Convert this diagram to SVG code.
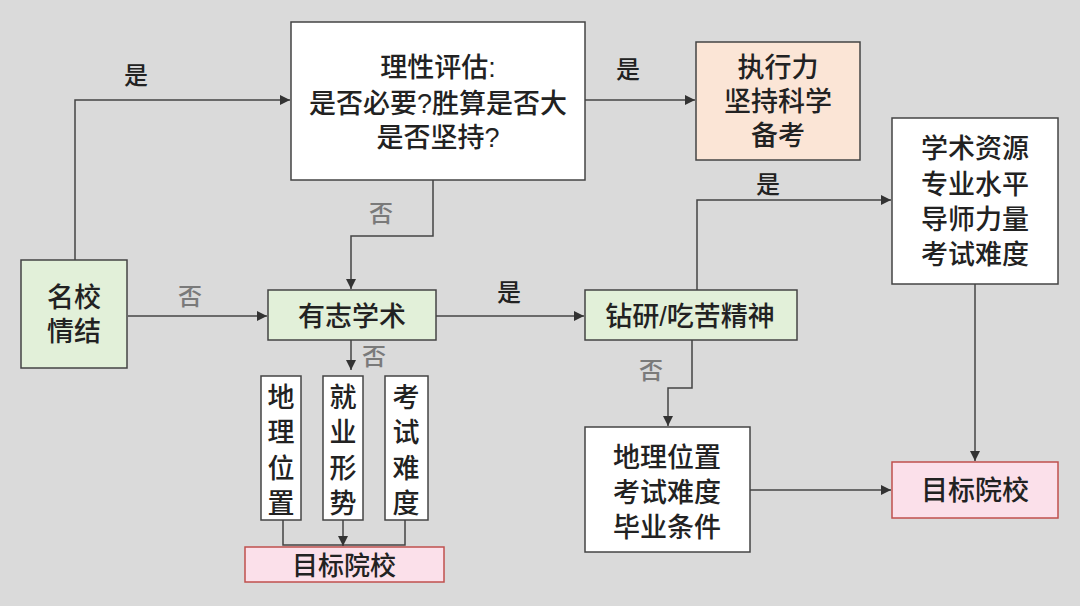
<svg xmlns="http://www.w3.org/2000/svg" width="1080" height="606" viewBox="0 0 1080 606">
<defs>
<style>
.bg{fill:#dadada}
.n{stroke:#444;stroke-width:1.5}
.w{fill:#ffffff}
.g{fill:#e2f0d9}
.o{fill:#fbe5d6}
.p{fill:#fbe0ea;stroke:#c0504d;stroke-width:1.5}
.t{font-family:"Liberation Sans","Noto Sans CJK SC",sans-serif;font-size:27px;font-weight:500;fill:#222;text-anchor:middle;dominant-baseline:central}
.l{font-family:"Liberation Sans","Noto Sans CJK SC",sans-serif;font-size:24px;font-weight:500;text-anchor:middle;dominant-baseline:central}
.y{fill:#222}
.no{fill:#7a7a7a}
.c{fill:none;stroke:#444;stroke-width:1.5}
</style>
<marker id="a" viewBox="0 0 10 10" refX="10" refY="5" markerWidth="10" markerHeight="10" markerUnits="userSpaceOnUse" orient="auto">
<path d="M0,0 L10,5 L0,10 z" fill="#333"/>
</marker>
</defs>
<rect class="bg" x="0" y="0" width="1080" height="606"/>

<g id="connectors">
<polyline class="c" points="75,260 75,100 290,100" marker-end="url(#a)"/>
<line class="c" x1="128" y1="316" x2="267" y2="316" marker-end="url(#a)"/>
<polyline class="c" points="433,180 433,236 351,236 351,289" marker-end="url(#a)"/>
<line class="c" x1="585" y1="100" x2="695" y2="100" marker-end="url(#a)"/>
<line class="c" x1="436" y1="316" x2="584" y2="316" marker-end="url(#a)"/>
<line class="c" x1="351" y1="340" x2="351" y2="370" marker-end="url(#a)"/>
<polyline class="c" points="697,290 697,200 891,200" marker-end="url(#a)"/>
<polyline class="c" points="692,340 692,388 668,388 668,426" marker-end="url(#a)"/>
<line class="c" x1="975" y1="284" x2="975" y2="461" marker-end="url(#a)"/>
<line class="c" x1="750" y1="490" x2="891" y2="490" marker-end="url(#a)"/>
<polyline class="c" points="283,520 283,545 405,545 405,520"/>
<line class="c" x1="343" y1="520" x2="343" y2="546" marker-end="url(#a)"/>
<text class="l y" x="136" y="75">是</text>
<text class="l no" x="190" y="296">否</text>
<text class="l no" x="381" y="213">否</text>
<text class="l y" x="628" y="69">是</text>
<text class="l y" x="509" y="292">是</text>
<text class="l no" x="374" y="356">否</text>
<text class="l y" x="768" y="184">是</text>
<text class="l no" x="651" y="370">否</text>
</g>

<g id="mingxiao">
<rect class="n g" x="21" y="260" width="106" height="108"/>
<text class="t" x="74" y="298">名校<tspan x="74" dy="34">情结</tspan></text>
</g>

<g id="lixing">
<rect class="n w" x="291" y="22" width="294" height="158"/>
<text class="t" x="438" y="68">理性评估:<tspan x="438" dy="36">是否必要?胜算是否大</tspan><tspan x="438" dy="34">是否坚持?</tspan></text>
</g>

<g id="zhixingli">
<rect class="n o" x="696" y="42" width="164" height="118"/>
<text class="t" x="778" y="68">执行力<tspan x="778" dy="34">坚持科学</tspan><tspan x="778" dy="34">备考</tspan></text>
</g>

<g id="xueshu">
<rect class="n w" x="892" y="118" width="166" height="166"/>
<text class="t" x="975" y="149">学术资源<tspan x="975" dy="36">专业水平</tspan><tspan x="975" dy="35">导师力量</tspan><tspan x="975" dy="35">考试难度</tspan></text>
</g>

<g id="youzhi">
<rect class="n g" x="268" y="290" width="168" height="50"/>
<text class="t" x="352" y="317">有志学术</text>
</g>

<g id="zuanyan">
<rect class="n g" x="585" y="290" width="212" height="50"/>
<text class="t" x="690" y="317">钻研/吃苦精神</text>
</g>

<g id="v1">
<rect class="n w" x="261" y="376" width="40" height="144"/>
<text class="t" x="281" y="398">地<tspan x="281" dy="35">理</tspan><tspan x="281" dy="36">位</tspan><tspan x="281" dy="35">置</tspan></text>
</g>

<g id="v2">
<rect class="n w" x="323" y="376" width="40" height="144"/>
<text class="t" x="343" y="398">就<tspan x="343" dy="35">业</tspan><tspan x="343" dy="36">形</tspan><tspan x="343" dy="35">势</tspan></text>
</g>

<g id="v3">
<rect class="n w" x="385" y="376" width="43" height="144"/>
<text class="t" x="406" y="398">考<tspan x="406" dy="35">试</tspan><tspan x="406" dy="36">难</tspan><tspan x="406" dy="35">度</tspan></text>
</g>

<g id="target1">
<rect class="p" x="245" y="547" width="199" height="35"/>
<text class="t" x="344" y="566" style="font-size:26px">目标院校</text>
</g>

<g id="dili">
<rect class="n w" x="585" y="427" width="165" height="125"/>
<text class="t" x="667" y="458">地理位置<tspan x="667" dy="35">考试难度</tspan><tspan x="667" dy="35">毕业条件</tspan></text>
</g>

<g id="target2">
<rect class="p" x="892" y="462" width="166" height="56"/>
<text class="t" x="975" y="491">目标院校</text>
</g>
</svg>
